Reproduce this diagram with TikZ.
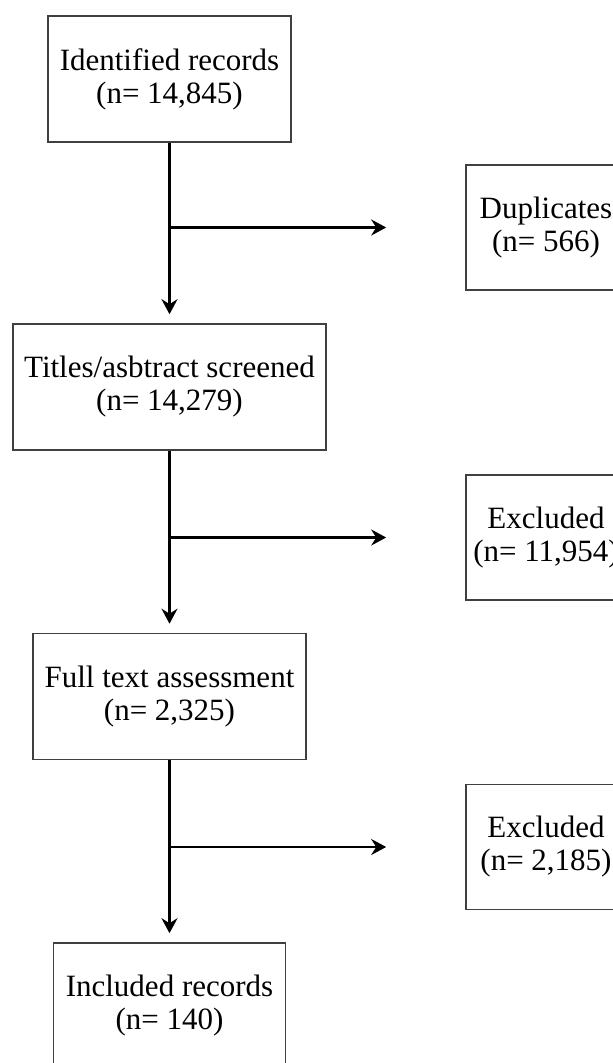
\documentclass[tikz,border=0pt]{standalone}
\usepackage{fontspec}
\setmainfont{Liberation Serif}
\usetikzlibrary{arrows.meta}
\tikzset{x=1pt, y=-1pt,
  stage box/.style={draw=black!75, line width=1.6pt, align=center,
        inner sep=0pt, font=\fontsize{31}{33}\selectfont},
  flow arrow/.style={draw=black, line width=2.5pt,
        -{Stealth[length=15pt, width=16pt, inset=5pt]}},
  down arrow/.style={flow arrow, shorten >=9pt}
}
\def\StageBox#1#2#3#4{%
 \node[stage box, minimum width=#3, minimum height=126pt] (#1) at (169.5,#2) {#4};
}
\def\SideBox#1#2#3{%
 \node[stage box, minimum width=160pt, minimum height=125pt] (#1) at (546,#2) {#3};
}

\begin{document}
\begin{tikzpicture}
\useasboundingbox (0,0) rectangle (613,1063);
\clip (0,0) rectangle (613,1063);
\StageBox{Ident}{79}{243pt}{Identified records\\(n= 14,845)}
\StageBox{Screen}{387}{313pt}{Titles/asbtract screened\\(n= 14,279)}
\StageBox{Full}{696.5}{273pt}{Full text assessment\\(n= 2,325)}
\StageBox{Incl}{1006}{232pt}{Included records\\(n= 140)}
\SideBox{Dup}{227.5}{Duplicates\\(n= 566)}
\SideBox{ExclA}{537.5}{Excluded\\(n= 11,954)}
\SideBox{ExclB}{847}{Excluded\\(n= 2,185)}
%\coordinate (TopFork) at (Ident.south |- Dup.west);
\coordinate (DupFork) at (Ident.south |- Dup.west);
\coordinate (ExclAFork) at (Screen.south |- ExclA.west);
\coordinate (ExclBFork) at (Full.south |- ExclB.west);
\draw[down arrow] (Ident.south) -- (Screen.north);
\draw[down arrow] (Screen.south) -- (Full.north);
\draw[down arrow] (Full.south) -- (Incl.north);
\draw[flow arrow] (DupFork) -- ([xshift=-79pt]Dup.west);
\draw[flow arrow] (ExclAFork) -- ([xshift=-79pt]ExclA.west);
\draw[flow arrow] (ExclBFork) -- ([xshift=-79pt]ExclB.west);
\end{tikzpicture}
\end{document}
